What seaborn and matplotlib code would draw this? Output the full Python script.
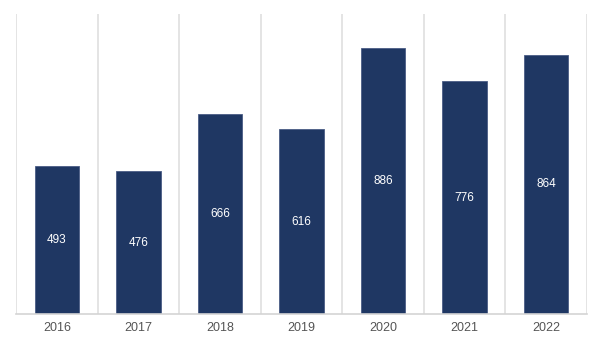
import matplotlib
matplotlib.use("Agg")
import matplotlib.pyplot as plt
import seaborn as sns
import pandas as pd
import numpy as np

years = ["2016", "2017", "2018", "2019", "2020", "2021", "2022"]
values = [493, 476, 666, 616, 886, 776, 864]

df = pd.DataFrame({"year": years, "value": values})

sns.set_theme(style="white")
plt.rcParams["font.family"] = ["Liberation Sans", "DejaVu Sans"]

fig = plt.figure(figsize=(6, 3.5), dpi=100)
ax = fig.add_axes([0.027, 0.103, 0.951, 0.857])

bar_color = "#1f3763"
sns.barplot(data=df, x="year", y="value", color=bar_color, width=0.55,
            edgecolor="#4a5d86", linewidth=0.6, saturation=1, ax=ax)

ax.set_xlim(-0.5, len(years) - 0.5)
ax.set_ylim(0, 1000)

# vertical separators between categories
ax.set_xticks(np.arange(-0.5, len(years)), minor=True)
ax.grid(which="minor", axis="x", color="#e2e2e2", linewidth=1.3)
ax.grid(which="major", visible=False)
ax.tick_params(which="both", length=0)

for s in ["top", "right", "left"]:
    ax.spines[s].set_visible(False)
ax.spines["bottom"].set_color("#d4d4d4")
ax.spines["bottom"].set_linewidth(1.2)

ax.set_yticks([])
ax.set_xlabel("")
ax.set_ylabel("")
ax.tick_params(axis="x", labelsize=9, labelcolor="#555555", pad=6)

for i, v in enumerate(values):
    ax.text(i, v / 2, f"{v}", ha="center", va="center", color="white", fontsize=8.5)

fig.savefig("out.png", dpi=100)
